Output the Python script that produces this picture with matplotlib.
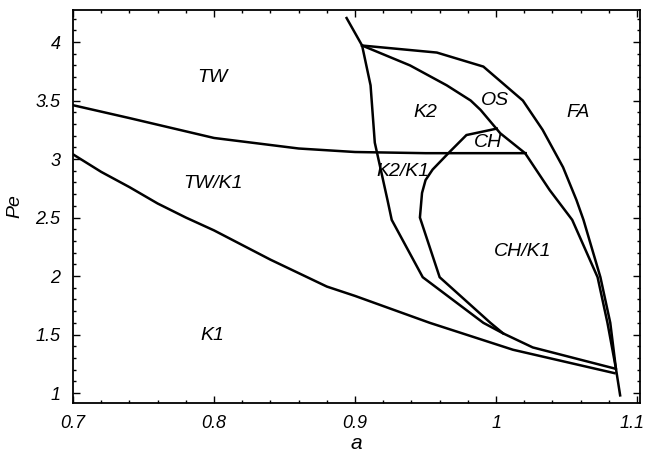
import matplotlib.pyplot as plt
from matplotlib.ticker import MultipleLocator
from matplotlib.transforms import ScaledTranslation

# boundary curves of the phase diagram (a, Pe)
tw_a = [0.70, 0.74, 0.80, 0.86, 0.90, 0.95, 1.00, 1.021]
tw_pe = [3.46, 3.35, 3.18, 3.09, 3.06, 3.05, 3.05, 3.05]

k1_a = [0.70, 0.72, 0.74, 0.76, 0.78, 0.80, 0.84, 0.88, 0.90, 0.953, 1.012, 1.084]
k1_pe = [3.04, 2.89, 2.76, 2.62, 2.50, 2.39, 2.14, 1.91, 1.83, 1.60, 1.37, 1.17]

k2_a = [0.894, 0.905, 0.911, 0.914, 0.923, 0.926, 0.948, 0.991, 1.005, 1.026, 1.084]
k2_pe = [4.205, 3.97, 3.63, 3.14, 2.65, 2.48, 1.99, 1.60, 1.51, 1.39, 1.21]

ch_a = [1.0005, 0.979, 0.967, 0.955, 0.950, 0.9475, 0.946, 0.960, 0.996, 1.005]
ch_pe = [3.26, 3.205, 3.06, 2.91, 2.82, 2.71, 2.50, 1.99, 1.60, 1.51]

fa_a = [0.905, 0.958, 0.991, 1.019, 1.033, 1.0475, 1.057, 1.062, 1.074, 1.081, 1.085, 1.088]
fa_pe = [3.97, 3.91, 3.79, 3.50, 3.25, 2.93, 2.65, 2.48, 1.99, 1.60, 1.21, 0.98]

os_a = [0.905, 0.939, 0.965, 0.982, 0.989, 1.003, 1.0206, 1.038, 1.054, 1.072, 1.079, 1.085]
os_pe = [3.97, 3.80, 3.63, 3.50, 3.42, 3.22, 3.05, 2.735, 2.48, 1.99, 1.60, 1.21]

# region names and where they sit
regions = ["TW", "TW/K1", "K1", "K2", "OS", "FA", "CH", "K2/K1", "CH/K1"]
region_a = [0.799, 0.799, 0.799, 0.9496, 0.999, 1.058, 0.9943, 0.934, 1.019]
region_pe = [3.70, 2.795, 1.496, 3.40, 3.50, 3.40, 3.14, 2.89, 2.21]

plt.rcParams['font.family'] = ['Liberation Sans', 'DejaVu Sans']

fig = plt.figure(figsize=(6.48, 4.53), dpi=100)
ax = fig.add_axes([0.1127, 0.1104, 0.875, 0.8676])

for xs, ys in [(tw_a, tw_pe), (k1_a, k1_pe), (k2_a, k2_pe),
               (ch_a, ch_pe), (fa_a, fa_pe), (os_a, os_pe)]:
    ax.plot(xs, ys, color='black', lw=1.8, solid_joinstyle='miter')

for name, x, y in zip(regions, region_a, region_pe):
    ax.text(x, y, name, ha='center', va='center', fontsize=14, style='italic')

ax.set_xlim(0.7, 1.1021)
ax.set_ylim(0.915, 4.274)
ax.xaxis.set_minor_locator(MultipleLocator(0.02))
ax.yaxis.set_minor_locator(MultipleLocator(0.1))
ax.set_xticks([0.7, 0.8, 0.9, 1.0, 1.1])
ax.set_xticklabels(["0.7", "0.8", "0.9", "1", "1.1"])
ax.set_yticks([1, 1.5, 2, 2.5, 3, 3.5, 4])
ax.set_yticklabels(["1", "1.5", "2", "2.5", "3", "3.5", "4"])
ax.tick_params(which='both', direction='in', top=True, right=True,
               labelsize=13, width=1)
ax.tick_params(which='major', length=5, pad=9)
ax.tick_params(which='minor', length=2.5)
for lab in ax.get_xticklabels() + ax.get_yticklabels():
    lab.set_style('italic')

# nudge the last x label so it stays inside the figure
last = ax.get_xticklabels()[-1]
last.set_transform(last.get_transform() + ScaledTranslation(-0.05, 0, fig.dpi_scale_trans))

for sp in ax.spines.values():
    sp.set_linewidth(1.3)

ax.set_xlabel("a", fontsize=15, style='italic', labelpad=1)
ax.set_ylabel("Pe", fontsize=14, style='italic', labelpad=9)

fig.savefig("out.png", dpi=100)
